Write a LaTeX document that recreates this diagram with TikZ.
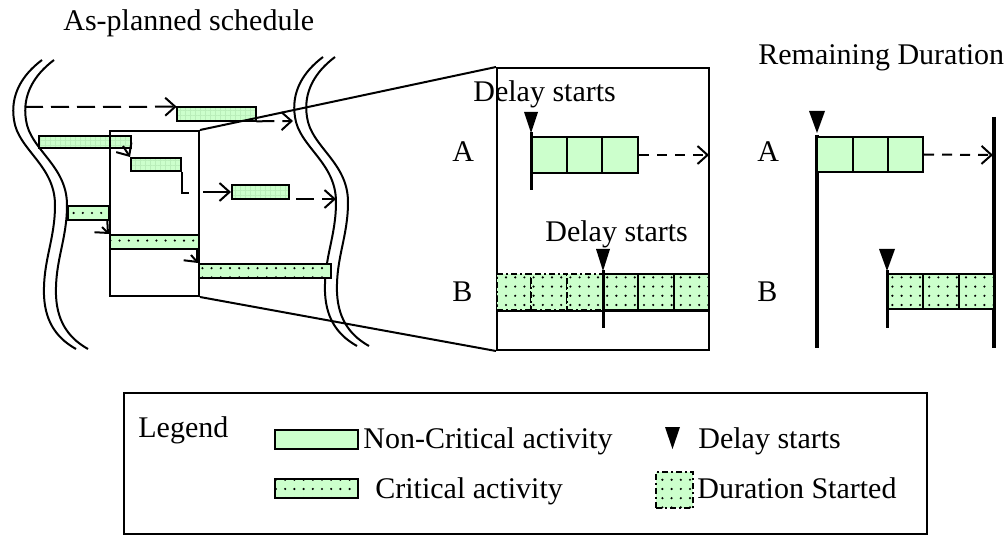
\documentclass[tikz,border=0pt]{standalone}
\usepackage{fontspec}
\setmainfont{Liberation Serif}
\usetikzlibrary{arrows.meta,patterns.meta,fit}

\definecolor{actgreen}{RGB}{204,255,204}
\definecolor{gridgreen}{RGB}{186,238,186}

\tikzset{
  lbl/.style={anchor=base west,inner sep=0pt},
  frame/.style={draw,line width=1pt,inner sep=0pt},
  % non-critical activity, gridded fill (schedule excerpt)
  ncgrid/.style={frame,preaction={fill=actgreen},
    pattern={Hatch[distance=2.5pt,angle=0,line width=0.3pt]},pattern color=gridgreen},
  % non-critical activity, plain fill
  ncplain/.style={frame,fill=actgreen},
  % critical activity, dotted fill
  critbar/.style={frame,preaction={fill=actgreen},
    pattern={Dots[distance=4.6pt,radius=0.6pt]},pattern color=black},
  % part of a duration already started
  started/.style={critbar,dash pattern=on 3pt off 1.5pt on 1pt off 1.5pt},
  tip/.style={-{Straight Barb[length=5pt,width=9pt]}},
  link/.style={line width=1pt,tip},
  dlink/.style={link,dash pattern=on 9pt off 4pt},
  shortdash/.style={link,dash pattern=on 5pt off 4pt},
  breakline/.pic={
    \draw[line width=1pt] (42,60) .. controls (22,75) and (10,95) .. (14,120)
      .. controls (18,150) and (55,165) .. (55,205)
      .. controls (55,240) and (43,260) .. (44,295)
      .. controls (45,325) and (60,340) .. (76,349);
    \draw[line width=1pt] (54,60) .. controls (34,75) and (22,95) .. (26,120)
      .. controls (30,150) and (67,165) .. (67,205)
      .. controls (67,240) and (55,260) .. (56,295)
      .. controls (57,325) and (72,340) .. (88,349);
  }
}

\begin{document}
\begin{tikzpicture}[x=0.5pt,y=-0.5pt,font=\fontsize{15pt}{18pt}\selectfont]
\useasboundingbox (0,0) rectangle (1008,535);

% ---------- as-planned schedule excerpt ----------
\node[lbl] (title1) at (63,31) {As-planned schedule};

\pic at (0,0) {breakline};
\pic at (281,-3) {breakline};

\node[ncgrid,fit={(177,107) (256,121)}] (b1) {};
\node[ncgrid,fit={(39,136) (131,148)}] (b2) {};
\node[ncgrid,fit={(131,158) (181,171)}] (b3) {};
\node[ncgrid,fit={(232,185) (289,199)}] (b4) {};
\node[critbar,fit={(68,206) (109,220)}] (c1) {};
\node[critbar,fit={(110,235) (199,249)}] (c2) {};
\node[critbar,fit={(199,264) (331,278)}] (c3) {};

\node[frame,fit={(110,131) (199,296)}] (zoomwin) {};

\coordinate (s1) at (25,107);
\coordinate (e1) at (293,121);
\coordinate (k1) at (123,146);
\coordinate (k2) at (203,192);
\coordinate (s4) at (270,199);
\coordinate (e4) at (336,199);
\coordinate (k3) at (102,227);
\coordinate (k4) at (191,255);

\draw[dlink] (s1) -- (b1.north west);
\draw[dlink] (b1.south east) -- (e1);
\draw[link] (k1) -- (b3.north west);
\draw[line width=1pt] (b3.south east) -- ++(0,21) -- ++(7,0);
\draw[link] (k2) -- (b4.west);
\draw[dlink] (s4) -- (e4);
\draw[link] (k3) -- (c2.north west);
\draw[link] (k4) -- (c3.north west);

% ---------- enlarged detail ----------
\node[frame,fit={(497,68) (709,350)}] (detail) {};
\draw[line width=1pt] (zoomwin.north east) -- (detail.north west);
\draw[line width=1pt] (zoomwin.south east) -- (detail.south west);

\node[lbl] (dsA) at (473,102) {Delay starts};
\node[lbl] (labA) at (452,162) {A};
\node[lbl] (dsB) at (545,242) {Delay starts};
\node[lbl] (labB) at (452,301) {B};

\node[ncplain,fit={(531,137) (567,173)}] (a1) {};
\node[ncplain,fit={(567,137) (602,173)}] (a2) {};
\node[ncplain,fit={(602,137) (638,173)}] (a3) {};
\coordinate (ea) at (709,155);
\draw[shortdash] (a3.east) -- (ea);
\fill (524,112) -- (538,112) -- (531,133) -- cycle;
\draw[line width=1.5pt] (531,132) -- (531,190);

\node[started,fit={(497,274) (531,310)}] (p1) {};
\node[started,fit={(531,274) (567,310)}] (p2) {};
\node[started,fit={(567,274) (603,310)}] (p3) {};
\node[critbar,fit={(603,274) (638,310)}] (q1) {};
\node[critbar,fit={(638,274) (674,310)}] (q2) {};
\node[critbar,fit={(674,274) (709,310)}] (q3) {};
\draw[line width=1pt] (p1.south west) -- (q3.south east);
\fill (596,249) -- (610,249) -- (603,271) -- cycle;
\draw[line width=1.5pt] (603,270) -- (603,328);

% ---------- remaining duration ----------
\node[lbl] (title2) at (758,65) {Remaining Duration};
\node[lbl] (labA2) at (757,162) {A};
\node[lbl] (labB2) at (757,301) {B};

\coordinate (l1) at (817,135);
\coordinate (l2) at (817,348);
\coordinate (r1) at (994,117);
\coordinate (r2) at (994,348);
\draw[line width=2pt] (l1) -- (l2);
\draw[line width=2pt] (r1) -- (r2);
\fill (809,111) -- (825,111) -- (817,133) -- cycle;

\node[ncplain,fit={(817,137) (853,172)}] (ra1) {};
\node[ncplain,fit={(853,137) (888,172)}] (ra2) {};
\node[ncplain,fit={(888,137) (923,172)}] (ra3) {};
\coordinate (era) at (993,155);
\draw[shortdash] (ra3.east) -- (era);

\node[critbar,fit={(887,274) (923,309)}] (rb1) {};
\node[critbar,fit={(923,274) (959,309)}] (rb2) {};
\node[critbar,fit={(959,274) (994,309)}] (rb3) {};
\fill (879,249) -- (895,249) -- (887,271) -- cycle;
\draw[line width=1.5pt] (887,270) -- (887,328);

% ---------- legend ----------
\node[frame,fit={(124,393) (927,534)}] (legendbox) {};
\node[lbl] (legtitle) at (138,437) {Legend};
\node[ncplain,fit={(275,430) (358,449)}] (legnc) {};
\node[lbl] (legnctext) at (363,448) {Non-Critical activity};
\node[critbar,fit={(275,479) (358,498)}] (legcr) {};
\node[lbl] (legcrtext) at (375,498) {Critical activity};
\fill (665,427) -- (680,427) -- (672.5,449) -- cycle;
\node[lbl] (legdstext) at (698,448) {Delay starts};
\node[started,fit={(656,472) (693,508)}] (legst) {};
\node[lbl] (legsttext) at (697,498) {Duration Started};
\end{tikzpicture}
\end{document}
